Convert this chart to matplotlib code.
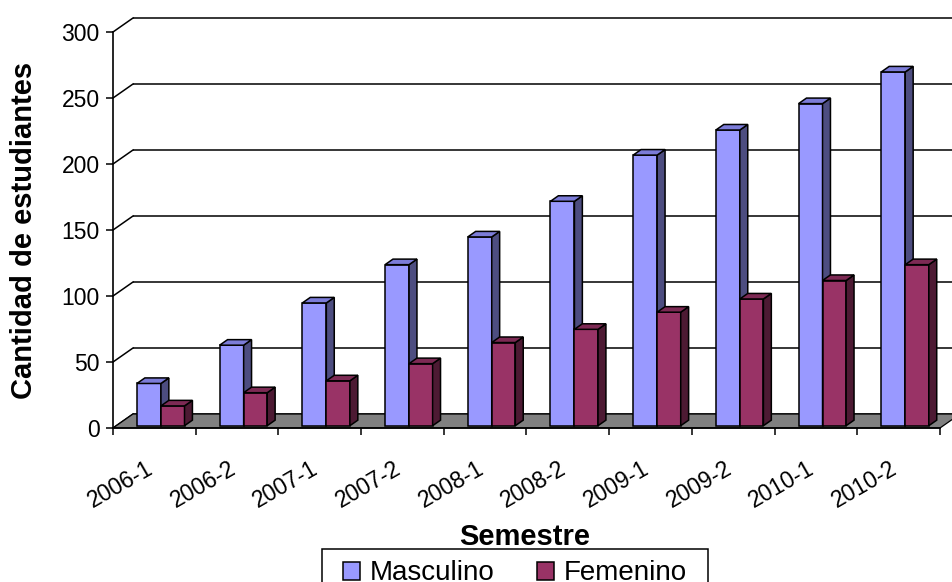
import matplotlib
matplotlib.use("Agg")
import matplotlib.pyplot as plt
from matplotlib.patches import Polygon, Patch, Rectangle

plt.rcParams['font.family'] = ['Liberation Sans', 'DejaVu Sans']

# Enrollment per semester
semestres = ["2006-1", "2006-2", "2007-1", "2007-2", "2008-1",
             "2008-2", "2009-1", "2009-2", "2010-1", "2010-2"]
masculino = [32, 61, 93, 122, 143, 170, 205, 224, 244, 268]
femenino = [15, 25, 34, 47, 63, 73, 86, 96, 110, 122]
y_ticks = [0, 50, 100, 150, 200, 250, 300]

# Face colours (front, top, side) for each series
colors = {
    "Masculino": ("#9999FF", "#7C7CD8", "#4D4D80"),
    "Femenino": ("#993366", "#7D2A54", "#4D1A33"),
}

W, H = 953, 582
fig = plt.figure(figsize=(W / 100, H / 100), dpi=100)
ax = fig.add_axes([113 / W, 154 / H, 827 / W, 396 / H])
n = len(semestres)
ax.set_xlim(0, n)
ax.set_ylim(0, 300)

# Oblique depth offset of the 3D box, in data units
DX = 20 / (827 / n)
DY = 14 / (396 / 300)


def P(x, y, t):
    return (x + t * DX, y + t * DY)


# Back-wall gridlines and left side-wall edges
for v in y_ticks:
    ax.plot([P(0, v, 1)[0], P(n + 0.3, v, 1)[0]], [P(0, v, 1)[1]] * 2,
            color="black", lw=1.1, zorder=1, clip_on=False,
            solid_capstyle="butt")
    ax.plot([P(0, v, 0)[0], P(0, v, 1)[0]], [P(0, v, 0)[1], P(0, v, 1)[1]],
            color="black", lw=1.1, zorder=1, clip_on=False)

# Floor
floor = Polygon([P(0, 0, 0), P(n, 0, 0), P(n, 0, 1), P(0, 0, 1)],
                closed=True, fc="#808080", ec="black", lw=0.9,
                zorder=2, clip_on=False)
ax.add_patch(floor)

# Bars
t0, t1 = 0.164, 0.56
series = [("Masculino", masculino, 0.25, 0.54),
          ("Femenino", femenino, 0.54, 0.825)]
z = 3
for i in range(n):
    for name, vals, a, b in series:
        v = vals[i]
        x0, x1 = i + a, i + b
        fc_front, fc_top, fc_side = colors[name]
        faces = [
            ([P(x0, 0, t0), P(x1, 0, t0), P(x1, v, t0), P(x0, v, t0)], fc_front),
            ([P(x1, 0, t0), P(x1, 0, t1), P(x1, v, t1), P(x1, v, t0)], fc_side),
            ([P(x0, v, t0), P(x1, v, t0), P(x1, v, t1), P(x0, v, t1)], fc_top),
        ]
        for pts, fc in faces:
            ax.add_patch(Polygon(pts, closed=True, fc=fc, ec="black",
                                 lw=1.1, joinstyle="miter", zorder=z,
                                 clip_on=False))
        z += 0.01

# Axes styling
for s in ("top", "right"):
    ax.spines[s].set_visible(False)
for s in ("left", "bottom"):
    ax.spines[s].set_linewidth(1.2)
    ax.spines[s].set_zorder(5)
ax.patch.set_visible(False)

ax.set_yticks(y_ticks)
ax.set_yticklabels([str(v) for v in y_ticks], fontsize=16.5)
ax.tick_params(axis="y", direction="out", length=5, width=1.1, pad=4.5)

ax.set_xticks(range(n + 1))
ax.set_xticklabels([])
ax.tick_params(axis="x", which="major", direction="out", length=5, width=1.1)
ax.set_xticks([i + 0.5 for i in range(n)], minor=True)
ax.set_xticklabels(semestres, minor=True, fontsize=16.5)
ax.tick_params(axis="x", which="minor", length=0, pad=32)
for lab in ax.get_xticklabels(minor=True):
    lab.set_rotation(30)
    lab.set_ha("right")
    lab.set_va("baseline")
    lab.set_rotation_mode("anchor")

ax.set_ylabel("Cantidad de estudiantes", fontsize=21, fontweight="bold",
              va="center")
ax.yaxis.set_label_coords((24 - 113) / 827, 0.5)

fig.text(525 / W, (H - 545) / H, "Semestre", fontsize=21,
         fontweight="bold", ha="center", va="baseline")

handles = [Patch(fc=colors["Masculino"][0], ec="black", lw=1.1),
           Patch(fc=colors["Femenino"][0], ec="black", lw=1.1)]
leg = fig.legend(handles, ["Masculino", "Femenino"], loc="upper center",
                 bbox_to_anchor=(515 / W, (H - 552) / H), ncol=2,
                 fontsize=20, frameon=False, borderaxespad=0,
                 handlelength=0.62, handleheight=0.62, handletextpad=0.36,
                 columnspacing=1.5, borderpad=0.3)
# Legend border
fig.patches.append(Rectangle((322 / W, -20 / H), 386 / W, (H - 549 + 20) / H,
                             transform=fig.transFigure, fill=False,
                             ec="black", lw=1.1, zorder=10))

fig.savefig("out.png", dpi=100)
